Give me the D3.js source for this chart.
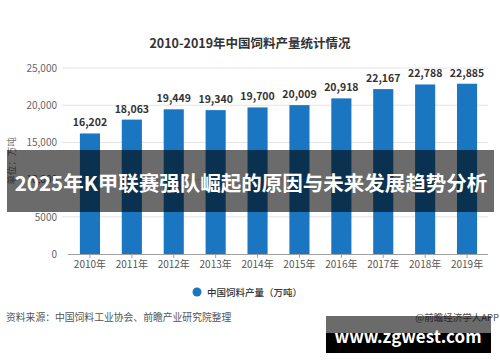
<!DOCTYPE html>
<html>
<head>
<meta charset="utf-8">
<script src="https://cdn.jsdelivr.net/npm/d3@7"></script>
<style>
  body { margin: 0; background: #fff; }
  svg text { font-family: "Noto Sans CJK SC", "Noto Sans", sans-serif; }
</style>
</head>
<body>
<div id="chart"></div>
<script>
// data
var years = ["2010年", "2011年", "2012年", "2013年", "2014年", "2015年", "2016年", "2017年", "2018年", "2019年"];
var output = [16202, 18063, 19449, 19340, 19700, 20009, 20918, 22167, 22788, 22885];
var yTicks = [0, 5000, 10000, 15000, 20000, 25000];
var yTickLabels = ["0", "5000", "10,000", "15,000", "20,000", "25,000"];

var W = 500, H = 362;
var svg = d3.select("#chart").append("svg")
    .attr("width", W)
    .attr("height", H);

// scales
var x = d3.scaleBand()
    .domain(years)
    .range([69, 488])
    .paddingInner(0.52)
    .paddingOuter(0.26);

var y = d3.scaleLinear()
    .domain([0, 25000])
    .range([254, 68]);

// title
svg.append("text")
    .attr("x", 250)
    .attr("y", 48)
    .attr("text-anchor", "middle")
    .style("font-size", "12.5px")
    .style("font-weight", "bold")
    .style("fill", "#333")
    .text("2010-2019年中国饲料产量统计情况");

// gridlines
svg.append("g")
    .selectAll("line")
    .data(yTicks.slice(1))
    .enter()
    .append("line")
    .attr("x1", 62)
    .attr("x2", 488)
    .attr("y1", function (d) { return y(d); })
    .attr("y2", function (d) { return y(d); })
    .style("stroke", "#e4e4e4")
    .style("stroke-width", 1);

// y axis labels (10,000 sits under the banner, as in the original)
var yAxis = svg.append("g")
    .attr("transform", "translate(57,0)")
    .call(d3.axisLeft(y).tickValues(yTicks).tickSize(0).tickPadding(0)
        .tickFormat(function (d, i) { return yTickLabels[i]; }));
yAxis.select(".domain").remove();
yAxis.selectAll("text")
    .style("font-size", "10px")
    .style("fill", "#666")
    .style("font-family", "\"Noto Sans CJK SC\", sans-serif");

// y axis title
svg.append("text")
    .attr("transform", "translate(15,161) rotate(-90)")
    .attr("text-anchor", "middle")
    .style("font-size", "9.5px")
    .style("fill", "#777")
    .text("单位：万吨");

// bars
svg.append("g")
    .selectAll("rect")
    .data(output)
    .enter()
    .append("rect")
    .attr("x", function (d, i) { return x(years[i]); })
    .attr("y", function (d) { return y(d); })
    .attr("width", x.bandwidth())
    .attr("height", function (d) { return y(0) - y(d); })
    .style("fill", "#1b76c2");

// value labels
svg.append("g")
    .selectAll("text")
    .data(output)
    .enter()
    .append("text")
    .attr("x", function (d, i) { return x(years[i]) + x.bandwidth() / 2; })
    .attr("y", function (d) { return y(d) - 7; })
    .attr("text-anchor", "middle")
    .style("font-size", "10.5px")
    .style("font-weight", "bold")
    .style("fill", "#333")
    .text(function (d) { return d3.format(",")(d); });

// x axis
var xAxis = svg.append("g")
    .attr("transform", "translate(0," + y(0) + ")")
    .call(d3.axisBottom(x).tickSize(4).tickPadding(3).tickSizeOuter(0));
xAxis.select(".domain")
    .attr("d", "M68,0.5H488")
    .style("stroke", "#a0a0a0");
xAxis.selectAll(".tick line").style("stroke", "#a0a0a0");
xAxis.selectAll("text")
    .style("font-size", "10px")
    .style("fill", "#555")
    .style("font-family", "\"Noto Sans CJK SC\", sans-serif");

// legend
svg.append("circle")
    .attr("cx", 197)
    .attr("cy", 292)
    .attr("r", 4.5)
    .style("fill", "#1b76c2");
svg.append("text")
    .attr("x", 207)
    .attr("y", 295.5)
    .style("font-size", "9.5px")
    .style("font-weight", "500")
    .style("fill", "#333")
    .text("中国饲料产量（万吨）");

// source line
svg.append("text")
    .attr("x", 6)
    .attr("y", 321)
    .style("font-size", "9.8px")
    .style("fill", "#555")
    .text("资料来源：中国饲料工业协会、前瞻产业研究院整理");

svg.append("text")
    .attr("x", 499)
    .attr("y", 321)
    .attr("text-anchor", "end")
    .style("font-size", "9.5px")
    .style("fill", "#555")
    .text("@前瞻经济学人APP");

// headline banner over the chart
svg.append("rect")
    .attr("x", 7)
    .attr("y", 150)
    .attr("width", 487)
    .attr("height", 62)
    .style("fill", "rgba(0,0,0,0.58)");
svg.append("text")
    .attr("x", 251)
    .attr("y", 191)
    .attr("text-anchor", "middle")
    .style("font-size", "20.5px")
    .style("font-weight", "bold")
    .style("fill", "#fff")
    .text("2025年K甲联赛强队崛起的原因与未来发展趋势分析");

// site watermark
svg.append("rect")
    .attr("x", 326)
    .attr("y", 316)
    .attr("width", 165)
    .attr("height", 17)
    .style("fill", "rgba(0,0,0,0.58)");
svg.append("rect")
    .attr("x", 326)
    .attr("y", 333)
    .attr("width", 165)
    .attr("height", 20)
    .style("fill", "#000");
svg.append("text")
    .attr("x", 408)
    .attr("y", 343)
    .attr("text-anchor", "middle")
    .style("font-size", "17px")
    .style("font-weight", "bold")
    .style("fill", "#fff")
    .text("www.zgwest.com");
</script>
</body>
</html>
